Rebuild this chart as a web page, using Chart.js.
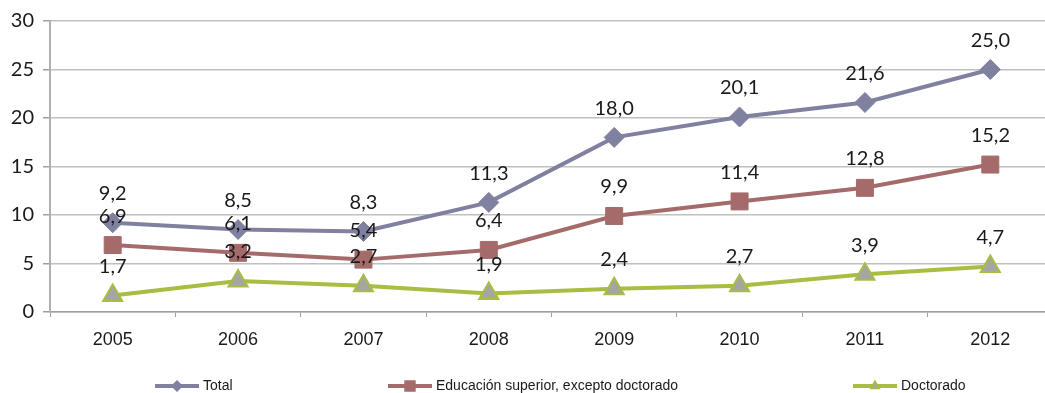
<!DOCTYPE html>
<html>
<head>
<meta charset="utf-8">
<script src="https://cdn.jsdelivr.net/npm/chart.js@4.4.1/dist/chart.umd.min.js"></script>
<style>
  html, body { margin: 0; padding: 0; background: #fff; overflow: hidden; }
  canvas { display: block; }
</style>
</head>
<body>
<canvas id="chart" width="1053" height="393"></canvas>
<script>
const years = ['2005', '2006', '2007', '2008', '2009', '2010', '2011', '2012'];
const totalValues = [9.2, 8.5, 8.3, 11.3, 18.0, 20.1, 21.6, 25.0];
const superiorValues = [6.9, 6.1, 5.4, 6.4, 9.9, 11.4, 12.8, 15.2];
const doctoradoValues = [1.7, 3.2, 2.7, 1.9, 2.4, 2.7, 3.9, 4.7];
const seriesNames = ['Total', 'Educación superior, excepto doctorado', 'Doctorado'];
const yTicks = [0, 5, 10, 15, 20, 25, 30];

const colTotal = '#8080a0';
const colSuperior = '#a56b6b';
const colDoctorado = '#a8bd41';
const colTriangle = '#a5a5a5';

// value labels above every point, comma decimals
const valueLabels = {
  id: 'valueLabels',
  afterDatasetsDraw(chart) {
    const ctx = chart.ctx;
    ctx.save();
    ctx.font = '20px Lato';
    ctx.fillStyle = '#1a1a1a';
    ctx.textAlign = 'center';
    ctx.textBaseline = 'middle';
    chart.data.datasets.forEach((ds, i) => {
      const meta = chart.getDatasetMeta(i);
      meta.data.forEach((pt, j) => {
        const txt = ds.data[j].toFixed(1).replace('.', ',');
        ctx.fillText(txt, pt.x, pt.y - 29);
      });
    });
    ctx.restore();
  }
};

// legend drawn like the original: line + small marker, spaced items
const bottomLegend = {
  id: 'bottomLegend',
  afterDraw(chart) {
    const ctx = chart.ctx;
    const y = 386;
    const items = [
      { x: 155, color: colTotal, style: 'rectRot', fill: colTotal, r: 5 },
      { x: 388, color: colSuperior, style: 'rect', fill: colSuperior, r: 7 },
      { x: 853, color: colDoctorado, style: 'triangle', fill: colTriangle, r: 5 }
    ];
    ctx.save();
    items.forEach((it, i) => {
      ctx.strokeStyle = it.color;
      ctx.lineWidth = 4;
      ctx.beginPath();
      ctx.moveTo(it.x, y);
      ctx.lineTo(it.x + 44, y);
      ctx.stroke();
      ctx.fillStyle = it.fill;
      ctx.strokeStyle = it.color;
      ctx.lineWidth = 1.5;
      Chart.helpers.drawPoint(ctx, { pointStyle: it.style, rotation: 0, radius: it.r, borderWidth: 1.5 }, it.x + 22, y);
      ctx.fillStyle = '#1a1a1a';
      ctx.font = '14px "Liberation Sans"';
      ctx.textAlign = 'left';
      ctx.textBaseline = 'middle';
      ctx.fillText(seriesNames[i], it.x + 48, y);
    });
    ctx.restore();
  }
};

new Chart(document.getElementById('chart'), {
  type: 'line',
  data: {
    labels: years,
    datasets: [{
      label: seriesNames[0],
      data: totalValues,
      borderColor: colTotal,
      backgroundColor: colTotal,
      borderWidth: 4,
      pointStyle: 'rectRot',
      pointRadius: 10,
      pointBorderWidth: 1,
      tension: 0
    }, {
      label: seriesNames[1],
      data: superiorValues,
      borderColor: colSuperior,
      backgroundColor: colSuperior,
      borderWidth: 4,
      pointStyle: 'rect',
      pointRadius: 12,
      pointBorderWidth: 1,
      tension: 0
    }, {
      label: seriesNames[2],
      data: doctoradoValues,
      borderColor: colDoctorado,
      backgroundColor: colTriangle,
      pointBorderColor: colDoctorado,
      borderWidth: 4,
      pointStyle: 'triangle',
      pointRadius: 11,
      pointBorderWidth: 2,
      tension: 0
    }]
  },
  options: {
    responsive: false,
    animation: false,
    layout: { autoPadding: false, padding: { top: 20, right: 0, left: 0, bottom: 0 } },
    plugins: {
      legend: { display: false },
      tooltip: { enabled: false }
    },
    scales: {
      x: {
        offset: true,
        afterFit: function(scale) { scale.height = 81; },
        grid: {
          offset: true,
          drawOnChartArea: false,
          drawTicks: true,
          tickLength: 5,
          color: '#a0a0a0'
        },
        border: { color: '#a0a0a0', width: 1.5 },
        ticks: {
          padding: 12,
          color: '#1a1a1a',
          font: { family: 'Liberation Sans', size: 18 }
        }
      },
      y: {
        min: 0,
        max: 30,
        afterFit: function(scale) { scale.width = 50; },
        afterBuildTicks: function(scale) {
          scale.ticks = yTicks.map((v) => ({ value: v }));
        },
        grid: {
          color: '#c0c0c0',
          lineWidth: 1.5,
          drawTicks: true,
          tickLength: 7,
          tickColor: '#a0a0a0'
        },
        border: { color: '#b0b0b0', width: 2 },
        ticks: {
          padding: 9,
          color: '#1a1a1a',
          font: { family: 'Lato', size: 20 }
        }
      }
    }
  },
  plugins: [valueLabels, bottomLegend]
});
</script>
</body>
</html>
